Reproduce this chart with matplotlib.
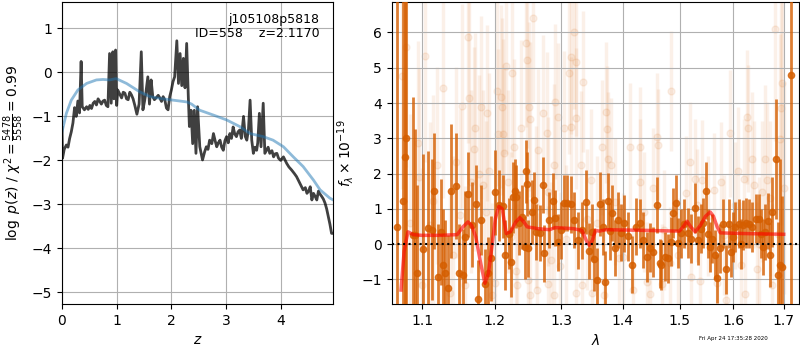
import time
import matplotlib
matplotlib.use('Agg')
import matplotlib.pyplot as plt
from matplotlib.ticker import FixedLocator, FixedFormatter, NullLocator

GRISM_COLOR = (0.8352, 0.3686, 0.0)   # G141

# ---- left panel: log p(z) ----
pz_z = [0.00, 0.01, 0.04, 0.08, 0.11, 0.14, 0.17, 0.20, 0.23, 0.26, 0.29, 0.32, 0.35, 0.37,
        0.41, 0.45, 0.48, 0.51, 0.54, 0.57, 0.60, 0.63, 0.66, 0.69, 0.72, 0.75, 0.78, 0.81,
        0.84, 0.87, 0.90, 0.93, 0.95, 0.98, 1.00, 1.02, 1.06, 1.09, 1.12, 1.15, 1.18, 1.21,
        1.24, 1.27, 1.30, 1.33, 1.37, 1.41, 1.45, 1.48, 1.51, 1.53, 1.57, 1.60, 1.63, 1.66,
        1.69, 1.72, 1.76, 1.79, 1.82, 1.85, 1.88, 1.91, 1.94, 1.97, 2.00, 2.03, 2.06, 2.10,
        2.13, 2.16, 2.19, 2.22, 2.25, 2.28, 2.31, 2.33, 2.36, 2.39, 2.42, 2.45, 2.48, 2.52,
        2.57, 2.61, 2.64, 2.67, 2.70, 2.74, 2.77, 2.80, 2.83, 2.86, 2.89, 2.92, 2.95, 2.98,
        3.01, 3.04, 3.07, 3.10, 3.13, 3.16, 3.19, 3.22, 3.25, 3.28, 3.32, 3.35, 3.38, 3.41,
        3.44, 3.47, 3.50, 3.53, 3.56, 3.58, 3.61, 3.64, 3.68, 3.71, 3.74, 3.77, 3.80, 3.84,
        3.87, 3.90, 3.93, 3.96, 4.00, 4.05, 4.11, 4.15, 4.20, 4.25, 4.29, 4.35, 4.41, 4.45,
        4.48, 4.51, 4.54, 4.57, 4.60, 4.63, 4.66, 4.69, 4.71, 4.75, 4.78, 4.81, 4.84, 4.87,
        4.90, 4.93, 4.96]
pz_logp = [-1.25, -1.95, -1.75, -1.65, -1.70, -1.50, -1.35, -1.15, -0.80, -1.00, -0.65, -0.92, 0.25, -0.78,
           -0.85, -0.78, -0.84, -0.75, -0.82, -0.70, -0.66, -0.74, -0.60, -0.66, -0.72, -0.65, -0.63, -0.75,
           -0.78, 0.43, -0.70, 0.47, -0.60, 0.51, -0.75, -0.40, -0.50, -0.58, -0.45, -0.47, -0.60, -0.62,
           -0.45, -0.51, -0.60, -0.74, -0.95, -0.72, 0.47, -0.85, -0.65, -0.50, -0.10, -0.72, -0.17, -0.55,
           -0.62, -0.58, -0.52, -0.58, -0.66, -0.55, -0.62, -0.81, -0.85, -0.55, -0.40, -0.21, -0.10, 0.72,
           -0.25, 0.43, -0.30, 0.32, -0.35, 0.66, -0.55, -1.23, -0.86, -1.62, -0.86, -1.84, -0.78, -1.69,
           -1.99, -1.80, -1.69, -1.75, -1.54, -1.62, -1.39, -1.55, -1.69, -1.60, -1.54, -1.70, -1.77, -1.55,
           -1.46, -1.60, -1.39, -1.50, -1.24, -1.40, -1.46, -1.35, -1.31, -1.50, -1.00, -1.45, -1.54, -1.30,
           -0.63, -1.54, -1.84, -1.70, -1.77, -1.60, -0.93, -1.69, -0.70, -1.84, -1.77, -1.70, -1.84, -1.78,
           -1.92, -1.85, -1.84, -1.95, -2.00, -1.92, -2.07, -2.15, -2.22, -2.30, -2.37, -2.52, -2.67, -2.62,
           -2.75, -2.70, -2.60, -2.90, -2.75, -2.82, -2.90, -2.70, -2.75, -2.82, -2.88, -2.97, -3.10, -3.28,
           -3.45, -3.66, -3.66]

smooth_z = [0.00, 0.08, 0.17, 0.29, 0.45, 0.63, 0.75, 0.87, 0.99, 1.18, 1.42, 1.61, 1.79, 2.03,
            2.28, 2.37, 2.52, 2.77, 3.01, 3.25, 3.44, 3.68, 3.86, 4.05, 4.23, 4.41, 4.60, 4.72,
            4.90, 4.96]
smooth_logp = [-1.35, -0.93, -0.63, -0.40, -0.25, -0.17, -0.16, -0.17, -0.14, -0.25, -0.44, -0.55, -0.59, -0.63,
               -0.67, -0.72, -0.86, -0.97, -1.08, -1.23, -1.39, -1.46, -1.54, -1.69, -1.92, -2.14, -2.45, -2.67,
               -2.86, -2.90]

# ---- right panel: 1D spectrum ----
# unbinned pixels (faint)
faint_wave = [1.073, 1.079, 1.094, 1.096, 1.103, 1.100, 1.120, 1.114, 1.128, 1.137,
              1.145, 1.151, 1.154, 1.158, 1.162, 1.164, 1.167, 1.170, 1.172, 1.177,
              1.181, 1.183, 1.189, 1.192, 1.196, 1.203, 1.205, 1.200, 1.209, 1.211,
              1.212, 1.214, 1.217, 1.219, 1.226, 1.229, 1.233, 1.238, 1.232, 1.246,
              1.247, 1.249, 1.250, 1.252, 1.252, 1.257, 1.263, 1.265, 1.272, 1.278,
              1.279, 1.279, 1.290, 1.295, 1.289, 1.289, 1.299, 1.305, 1.312, 1.315,
              1.316, 1.321, 1.323, 1.323, 1.323, 1.331, 1.334, 1.333, 1.348, 1.350,
              1.365, 1.372, 1.374, 1.376, 1.369, 1.381, 1.394, 1.413, 1.418, 1.429,
              1.429, 1.442, 1.447, 1.453, 1.460, 1.461, 1.468, 1.482, 1.485, 1.511,
              1.518, 1.520, 1.527, 1.537, 1.541, 1.563, 1.569, 1.577, 1.594, 1.586,
              1.609, 1.621, 1.627, 1.629, 1.623, 1.636, 1.641, 1.646, 1.657, 1.663,
              1.666, 1.676, 1.683, 1.693, 1.694, 1.696, 1.084, 1.110, 1.141, 1.187,
              1.224, 1.262, 1.284, 1.308, 1.342, 1.358, 1.387, 1.401, 1.436, 1.472,
              1.497, 1.532, 1.551, 1.582, 1.603, 1.615, 1.651, 1.672, 1.688, 1.700]
faint_flux = [4.76, 5.60, 2.86, 1.89, 5.33, -1.15, 2.23, 1.23, 4.42, -1.39,
              2.32, 0.83, 3.92, -1.15, 5.86, 4.13, 1.77, 2.70, 3.28, 2.00,
              3.88, 1.68, 3.71, 2.06, -1.43, 4.35, 3.12, -1.10, 4.18, 3.90,
              3.11, 2.59, 5.05, 1.77, 4.86, 2.76, -1.15, 3.28, -0.77, 5.71,
              5.22, -1.01, 3.90, 3.54, -1.43, 6.42, -1.31, 2.67, 3.73, 3.16,
              1.49, -1.12, 4.04, 3.61, 2.25, -1.43, -0.63, 3.28, 4.86, 5.31,
              3.31, 6.02, 5.17, 3.57, -1.37, 2.25, 4.60, -1.15, 1.82, -1.37,
              2.74, 3.74, 3.25, 2.42, -1.43, 2.25, -0.40, 2.76, -1.29, 2.76,
              1.75, -1.06, -1.41, 1.58, 3.05, 2.80, -1.13, -0.54, 4.34, 1.46,
              2.32, -0.92, 1.85, -1.05, 1.82, 1.54, -1.10, 1.75, 3.14, -1.58,
              2.08, 1.84, 3.61, 3.28, -1.41, 2.41, 1.68, -0.71, 1.49, 2.41,
              1.82, -1.15, 6.11, 2.97, 3.85, 4.58, 0.60, 0.55, -0.30, 0.90,
              0.20, 1.05, -0.45, 0.15, 0.70, 0.60, 1.20, -0.35, 0.90, 0.40,
              -0.30, 1.10, 0.80, 0.25, 1.10, -0.60, 0.00, 1.30, 0.30, 1.60]
faint_err = [3.2, 3.4, 2.9, 3.1, 3.0, 3.3, 2.8, 3.0, 3.1, 2.9,
             2.7, 3.0, 2.9, 2.8, 3.0, 2.8, 2.6, 2.9, 2.7, 2.8,
             2.6, 2.7, 2.5, 2.8, 2.6, 2.7, 2.4, 2.6, 2.6, 2.5,
             2.7, 2.4, 2.5, 2.6, 2.4, 2.5, 2.3, 2.5, 2.4, 2.4,
             2.5, 2.3, 2.4, 2.2, 2.3, 2.4, 2.2, 2.3, 2.2, 2.3,
             2.1, 2.2, 2.2, 2.1, 2.3, 2.0, 2.1, 2.2, 2.3, 2.2,
             2.0, 2.2, 2.1, 2.0, 2.0, 2.1, 2.0, 1.9, 2.0, 1.9,
             1.9, 2.0, 1.8, 1.9, 1.8, 1.9, 1.7, 1.8, 1.8, 1.7,
             1.8, 1.7, 1.8, 1.7, 1.8, 1.6, 1.7, 1.6, 1.7, 1.6,
             1.7, 1.6, 1.7, 1.6, 1.7, 1.6, 1.7, 1.7, 1.8, 1.7,
             1.8, 1.7, 1.9, 1.8, 1.8, 1.9, 1.8, 1.9, 2.0, 2.1,
             2.2, 2.3, 3.2, 3.0, 3.3, 3.4, 3.1, 2.9, 2.8, 2.6,
             2.4, 2.3, 2.2, 2.1, 2.0, 1.9, 1.8, 1.8, 1.7, 1.7,
             1.6, 1.6, 1.7, 1.7, 1.8, 1.8, 1.9, 2.2, 2.6, 3.0]

# binned spectrum (dark)
bin_wave = [1.067, 1.0745, 1.077, 1.079, 1.087, 1.090, 1.093, 1.1014, 1.108, 1.113,
            1.115, 1.121, 1.125, 1.128, 1.131, 1.135, 1.139, 1.145, 1.150, 1.155,
            1.158, 1.162, 1.168, 1.173, 1.176, 1.180, 1.186, 1.190, 1.195, 1.201,
            1.206, 1.212, 1.215, 1.221, 1.224, 1.227, 1.230, 1.232, 1.235, 1.240,
            1.244, 1.246, 1.248, 1.249, 1.255, 1.258, 1.262, 1.268, 1.272, 1.274,
            1.281, 1.287, 1.290, 1.295, 1.300, 1.305, 1.310, 1.316, 1.321, 1.327,
            1.333, 1.339, 1.345, 1.349, 1.353, 1.357, 1.363, 1.367, 1.371, 1.375,
            1.379, 1.382, 1.388, 1.393, 1.398, 1.403, 1.410, 1.416, 1.423, 1.429,
            1.435, 1.441, 1.447, 1.453, 1.460, 1.464, 1.467, 1.473, 1.478, 1.484,
            1.488, 1.493, 1.497, 1.502, 1.508, 1.514, 1.520, 1.527, 1.533, 1.539,
            1.543, 1.548, 1.552, 1.556, 1.560, 1.564, 1.568, 1.574, 1.580, 1.586,
            1.591, 1.596, 1.600, 1.604, 1.610, 1.615, 1.619, 1.625, 1.631, 1.637,
            1.644, 1.651, 1.655, 1.659, 1.663, 1.668, 1.673, 1.677, 1.685, 1.688,
            1.692, 1.697, 1.715]
bin_flux = [0.50, 1.22, 2.48, 3.00, 0.26, 0.25, -0.83, -0.14, 0.45, 0.41,
            1.50, -0.92, 0.35, -0.59, -0.82, -1.25, 1.50, 1.66, -0.83, -0.87,
            0.20, 1.41, 0.55, 1.13, -1.55, 0.69, -1.13, -0.81, -0.40, 1.47,
            1.10, 1.07, -0.31, 0.30, -0.50, 1.33, 1.52, 1.35, 0.60, 0.77,
            -0.09, 2.06, 1.71, -0.12, 0.91, 1.24, 0.35, 0.32, 1.68, -0.26,
            0.69, 1.22, 0.74, 0.05, 0.39, 1.16, 1.16, 1.13, 0.68, 0.11,
            0.39, 1.19, -0.19, 0.35, -0.43, -1.01, 1.14, 0.49, -1.08, 1.21,
            0.36, 0.88, -0.11, 0.69, 0.33, 0.59, 0.22, -0.58, 0.50, 0.59,
            0.12, -0.36, -0.10, -0.22, 1.11, -0.54, -0.59, -0.35, -0.40, 0.07,
            0.88, 1.16, 0.03, 0.31, 0.58, 0.32, 0.16, 1.02, 0.11, 0.44,
            0.60, 1.52, 0.30, -0.08, 0.16, -0.30, -0.97, -0.12, 0.58, -0.71,
            0.58, -0.22, 0.20, 0.49, 0.58, 0.00, 0.54, 0.60, 0.58, 0.49,
            0.72, 0.72, 0.30, -0.08, 0.35, 0.66, -0.30, 0.91, 2.41, -0.88,
            -0.58, -0.64, 4.78]
bin_err = [12.0, 12.0, 12.0, 12.0, 3.9, 3.0, 2.5, 2.7, 2.2, 2.0,
           1.65, 1.5, 1.5, 1.6, 1.5, 1.5, 1.9, 1.5, 1.4, 1.3,
           1.3, 1.2, 1.2, 1.1, 1.1, 1.0, 1.0, 1.0, 1.2, 1.2,
           1.0, 0.9, 1.0, 1.0, 1.0, 1.0, 0.9, 0.9, 0.9, 0.9,
           0.9, 0.9, 0.9, 0.8, 0.9, 0.8, 0.8, 0.8, 0.8, 0.8,
           0.8, 0.8, 0.8, 0.8, 0.8, 0.8, 0.8, 0.8, 0.8, 0.8,
           0.8, 0.9, 0.8, 0.8, 0.9, 0.9, 0.9, 0.8, 0.9, 0.8,
           0.8, 0.8, 0.8, 0.8, 0.8, 0.8, 0.7, 0.8, 0.8, 0.7,
           0.8, 0.7, 0.7, 0.7, 0.8, 0.7, 0.7, 0.7, 0.7, 0.7,
           0.7, 0.8, 0.7, 0.7, 0.7, 0.7, 0.7, 0.7, 0.7, 0.7,
           0.7, 0.8, 0.7, 0.7, 0.7, 0.7, 0.7, 0.7, 0.7, 0.7,
           0.7, 0.7, 0.7, 0.7, 0.7, 0.7, 0.7, 0.7, 0.7, 0.7,
           0.7, 0.7, 0.7, 0.8, 0.8, 0.8, 0.9, 1.0, 1.7, 1.5,
           3.0, 2.0, 12.0]

# best-fit model
model_wave = [1.072, 1.076, 1.081, 1.088, 1.099, 1.124, 1.147, 1.155, 1.162, 1.167,
              1.173, 1.180, 1.186, 1.191, 1.196, 1.201, 1.206, 1.211, 1.217, 1.223,
              1.231, 1.237, 1.243, 1.248, 1.264, 1.282, 1.291, 1.319, 1.333, 1.341,
              1.345, 1.350, 1.355, 1.361, 1.373, 1.441, 1.499, 1.506, 1.513, 1.520,
              1.528, 1.538, 1.547, 1.556, 1.562, 1.569, 1.575, 1.622, 1.700]
model_flux = [-1.30, -0.20, 0.35, 0.27, 0.25, 0.25, 0.27, 0.49, 0.63, 0.54,
              0.21, -0.54, -1.11, -0.83, -0.08, 0.72, 1.07, 1.00, 0.30, 0.35,
              0.63, 0.75, 0.63, 0.49, 0.44, 0.41, 0.47, 0.44, 0.39, 0.07,
              -0.03, 0.11, 0.39, 0.37, 0.41, 0.39, 0.37, 0.49, 0.65, 0.49,
              0.35, 0.54, 0.79, 0.91, 0.79, 0.49, 0.32, 0.30, 0.28]

xticks = [1.1, 1.2, 1.3, 1.4, 1.5, 1.6, 1.7]
xticklabels = ['1.1', '1.2', '1.3', '1.4', '1.5', '1.6', '1.7']


def main():
    fig = plt.figure(figsize=(8, 3.5), dpi=100)

    ax1 = fig.add_axes([0.0775, 0.131, 0.339, 0.863])
    ax1.plot(pz_z, pz_logp, color='k', alpha=0.75, lw=2)
    ax1.plot(smooth_z, smooth_logp, color='C0', alpha=0.5, lw=2)
    ax1.set_xlim(0, 4.96)
    ax1.set_ylim(-5.27, 1.6)
    ax1.set_yticks([-5, -4, -3, -2, -1, 0, 1])
    ax1.set_xlabel(r'$z$')
    ax1.set_ylabel(r'$\log\ p(z)$' + ' / ' + r'$\chi^2=\frac{5478}{5558}=0.99$')
    ax1.text(0.95, 0.965, 'j105108p5818\nID=558    z=2.1170', transform=ax1.transAxes,
             ha='right', va='top', fontsize=9, linespacing=1.1)
    ax1.grid()

    ax2 = fig.add_axes([0.4896, 0.131, 0.5094, 0.863])
    ax2.errorbar(faint_wave, faint_flux, faint_err, color=GRISM_COLOR, alpha=0.09,
                 marker='o', ms=5, linestyle='None', lw=2.5, zorder=1)
    ax2.errorbar(bin_wave, bin_flux, bin_err, color=GRISM_COLOR, alpha=0.8,
                 marker='o', ms=4.5, linestyle='None', lw=2, zorder=3)
    ax2.plot(model_wave, model_flux, color='r', alpha=0.6, lw=2.5, zorder=4)
    ax2.axhline(0, color='k', linestyle=':', lw=1.5, zorder=5)
    ax2.set_xscale('log')
    ax2.set_xlim(1.06, 1.732)
    ax2.set_ylim(-1.7, 6.86)
    ax2.xaxis.set_major_locator(FixedLocator(xticks))
    ax2.xaxis.set_major_formatter(FixedFormatter(xticklabels))
    ax2.xaxis.set_minor_locator(NullLocator())
    ax2.set_yticks([-1, 0, 1, 2, 3, 4, 5, 6])
    ax2.set_xlabel(r'$\lambda$')
    ax2.set_ylabel(r'$f_\lambda\times10^{-19}$')
    ax2.grid()

    fig.text(0.96, 0.025, 'Fri Apr 24 17:35:28 2020', ha='right', va='bottom', fontsize=4)
    fig.savefig('out.png', dpi=100)
    plt.close(fig)


if __name__ == '__main__':
    main()
